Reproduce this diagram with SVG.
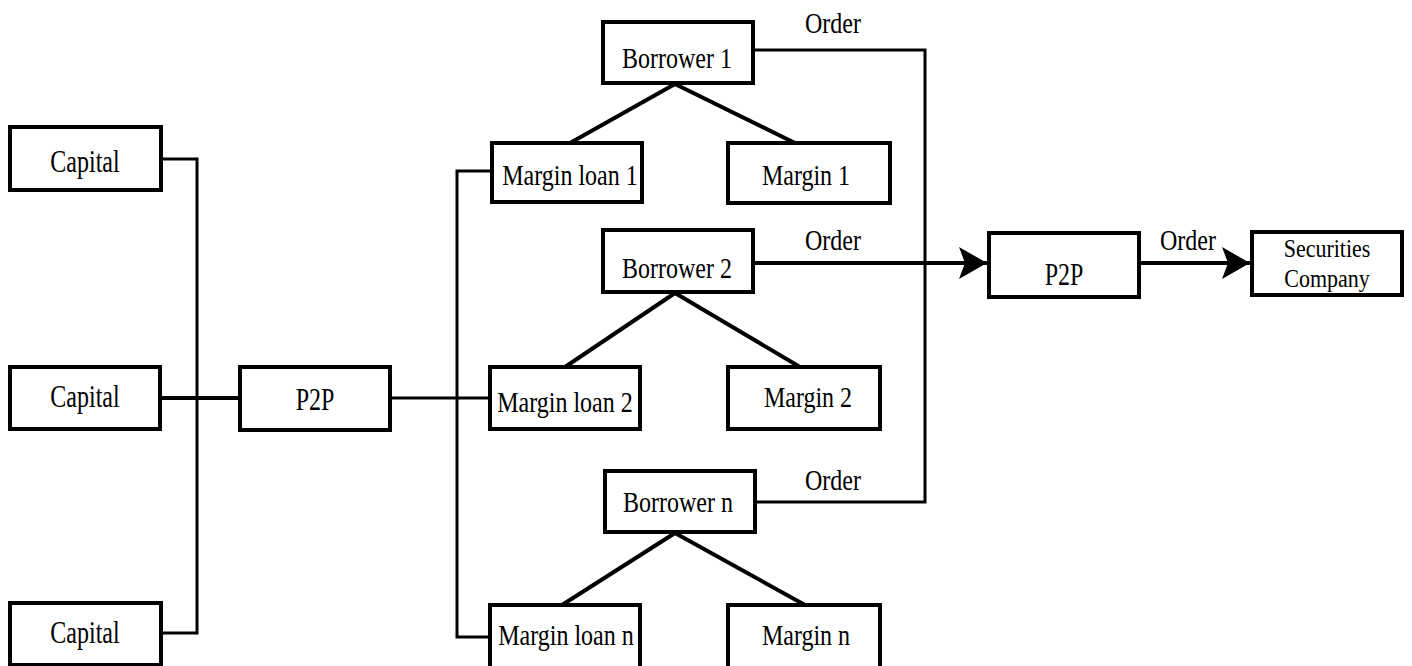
<svg xmlns="http://www.w3.org/2000/svg" width="1412" height="666" viewBox="0 0 1412 666">
<defs>
<marker id="arr" markerWidth="8" markerHeight="8" refX="7" refY="4" orient="auto" markerUnits="strokeWidth"><path d="M0,0 L7,4 L0,8 L1.5,4 Z" fill="#000"/></marker>
</defs>
<style>
.box{fill:#fff;stroke:#000;stroke-width:4}
.t{font-family:"Liberation Serif","Times New Roman",serif;font-size:24px;fill:#000;text-anchor:middle}
.ln{fill:none;stroke:#000;stroke-width:3}
.dg{fill:none;stroke:#000;stroke-width:4}
</style>
<rect width="1412" height="666" fill="#fff"/>
<g id="connectors">
<polyline class="ln" points="161,159 197,159 197,633 161,633"/>
<line class="dg" x1="161" y1="398" x2="240" y2="398"/>
<line class="ln" x1="390" y1="398" x2="490" y2="398"/>
<polyline class="ln" points="492,171 457,171 457,637 490,637"/>
<line class="dg" x1="675" y1="84" x2="570" y2="143"/>
<line class="dg" x1="675" y1="84" x2="795" y2="143"/>
<line class="dg" x1="675" y1="293" x2="565" y2="367"/>
<line class="dg" x1="675" y1="293" x2="800" y2="367"/>
<line class="dg" x1="675" y1="533" x2="562" y2="605"/>
<line class="dg" x1="675" y1="533" x2="805" y2="605"/>
<polyline class="ln" points="753,50 925,50 925,502 755,502"/>
<line class="dg" x1="753" y1="263" x2="987" y2="263" marker-end="url(#arr)"/>
<line class="dg" x1="1139" y1="263" x2="1250" y2="263" marker-end="url(#arr)"/>
<text class="t" transform="translate(833,33) scale(1,1.25)">Order</text>
<text class="t" transform="translate(833,250) scale(1,1.25)">Order</text>
<text class="t" transform="translate(833,490) scale(1,1.25)">Order</text>
<text class="t" transform="translate(1188,250) scale(1,1.25)">Order</text>
</g>
<g id="capital1"><rect class="box" x="10" y="127" width="151" height="63"/><text class="t" transform="translate(85,172) scale(1,1.3)">Capital</text></g>
<g id="capital2"><rect class="box" x="10" y="367" width="150" height="62"/><text class="t" transform="translate(85,407) scale(1,1.3)">Capital</text></g>
<g id="capital3"><rect class="box" x="10" y="603" width="151" height="62"/><text class="t" transform="translate(85,643) scale(1,1.3)">Capital</text></g>
<g id="p2p-left"><rect class="box" x="240" y="367" width="150" height="63"/><text class="t" transform="translate(315,410) scale(1,1.3)">P2P</text></g>
<g id="borrower1"><rect class="box" x="603" y="22" width="150" height="61"/><text class="t" transform="translate(677,68) scale(1,1.25)">Borrower 1</text></g>
<g id="marginloan1"><rect class="box" x="492" y="143" width="150" height="59"/><text class="t" transform="translate(570,185) scale(1,1.25)">Margin loan 1</text></g>
<g id="margin1"><rect class="box" x="728" y="143" width="162" height="60"/><text class="t" transform="translate(806,185) scale(1,1.25)">Margin 1</text></g>
<g id="borrower2"><rect class="box" x="603" y="230" width="150" height="62"/><text class="t" transform="translate(677,278) scale(1,1.25)">Borrower 2</text></g>
<g id="marginloan2"><rect class="box" x="490" y="367" width="150" height="62"/><text class="t" transform="translate(565,412) scale(1,1.25)">Margin loan 2</text></g>
<g id="margin2"><rect class="box" x="728" y="367" width="152" height="62"/><text class="t" transform="translate(808,407) scale(1,1.25)">Margin 2</text></g>
<g id="borrowern"><rect class="box" x="605" y="471" width="150" height="61"/><text class="t" transform="translate(678,512) scale(1,1.25)">Borrower n</text></g>
<g id="marginloann"><rect class="box" x="490" y="605" width="150" height="65"/><text class="t" transform="translate(566,645) scale(1,1.25)">Margin loan n</text></g>
<g id="marginn"><rect class="box" x="728" y="605" width="152" height="65"/><text class="t" transform="translate(806,645) scale(1,1.25)">Margin n</text></g>
<g id="p2p-right"><rect class="box" x="989" y="233" width="150" height="64"/><text class="t" transform="translate(1064,285) scale(1,1.3)">P2P</text></g>
<g id="securities"><rect class="box" x="1252" y="232" width="150" height="63"/><text class="t" transform="translate(1327,257) scale(1,1.15)" style="font-size:22px">Securities</text><text class="t" transform="translate(1327,287) scale(1,1.15)" style="font-size:22px">Company</text></g>
</svg>
